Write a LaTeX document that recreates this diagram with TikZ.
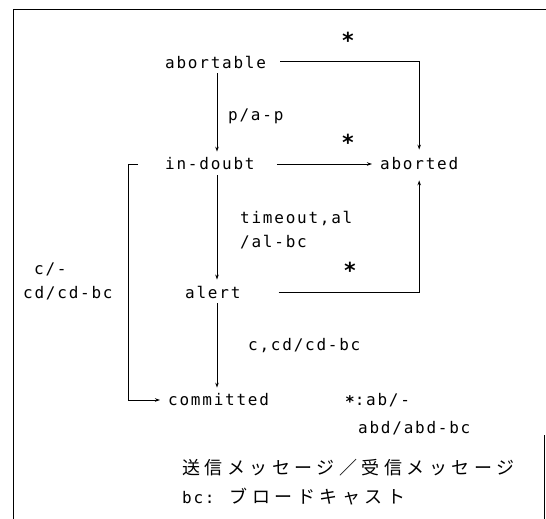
\documentclass[tikz,border=0pt]{standalone}
\usepackage{fontspec}
\usepackage{tikz}
\usetikzlibrary{arrows.meta}
\newfontfamily\monofont[LetterSpace=11]{DejaVu Sans Mono}
\newfontfamily\jpfont[LetterSpace=25]{Noto Sans CJK JP}

\begin{document}
\begin{tikzpicture}[x=1pt, y=-1pt,
  mystate/.style={anchor=west, inner sep=2pt, font=\monofont\fontsize{16}{24}\selectfont},
  mylabel/.style={anchor=west, inner sep=0pt, align=left, font=\monofont\fontsize{16}{24}\selectfont},
  mystar/.style={inner sep=0pt, font=\monofont\bfseries\fontsize{22}{22}\selectfont},
  myarrow/.style={-{Stealth[length=5pt,width=3.5pt]}, line width=1pt, shorten <=3pt, shorten >=4pt}]
%frame
  \useasboundingbox (0,0) rectangle (546,519);
  \draw[line width=1pt] (13,519) -- (13,10) -- (546,10);
  \draw[line width=1pt] (544,435) -- (544,519);

%states
  \node[mystate] (abortable) at (163,62) {abortable};
  \node[mystate] (indoubt) at (163,164) {in-doubt};
  \node[mystate] (aborted) at (378,164) {aborted};
  \node[mystate] (alert) at (183,292) {alert};
  \node[mystate] (committed) at (166,400) {committed};

  \coordinate (spine) at (217,0);
  \coordinate (loop) at (128,0);

%transitions
  \draw[myarrow] (abortable.south -| spine) -- (indoubt.north -| spine);
  \draw[myarrow] (indoubt.south -| spine) -- (alert.north -| spine);
  \draw[myarrow] (alert.south -| spine) -- (committed.north -| spine);
  \draw[myarrow, shorten <=12pt, shorten >=6pt] (abortable.east) -| (aborted.north);
  \draw[myarrow, shorten <=20pt, shorten >=6pt] (indoubt.east) -- (aborted.west);
  \draw[myarrow, shorten <=36pt, shorten >=8pt] (alert.east) -| (aborted.south);
  \draw[myarrow, shorten <=25pt, shorten >=6pt] (indoubt.west) -- (indoubt.west -| loop)
    -- (committed.west -| loop) -- (committed.west);

%labels
  \node[mylabel] (pap) at (228,116) {p/a-p};
  \node[mylabel] (timeout) at (240,230) {timeout,al\\/al-bc};
  \node[mylabel] (commitlbl) at (248,346) {c,cd/cd-bc};
  \node[mylabel] (looplbl) at (23,281) {\hspace*{11pt}c/-\\cd/cd-bc};
  \node[mystar] (star1) at (348,40) {*};
  \node[mystar] (star2) at (348,142) {*};
  \node[mystar] (star3) at (350,270) {*};
  \node[mylabel] (starlbl) at (345,414) {{\bfseries\raisebox{-2pt}{*}}:ab/-\\[4pt]\hspace*{13pt}abd/abd-bc};
  \node[mylabel] (note) at (182,482)
    {{\jpfont\fontsize{18}{24}\selectfont 送信メッセージ／受信メッセージ}\\[5pt]bc: {\jpfont\fontsize{18}{24}\selectfont ブロードキャスト}};
\end{tikzpicture}
\end{document}
